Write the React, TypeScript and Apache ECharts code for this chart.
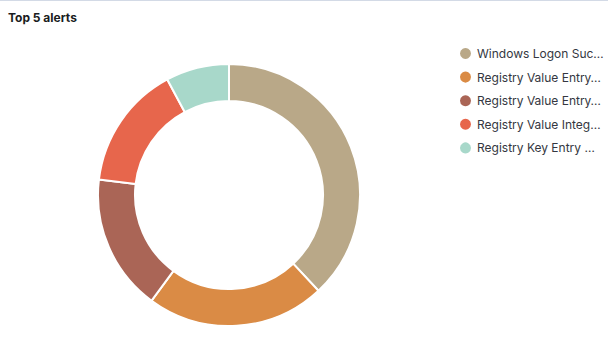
import React, { useEffect, useRef } from "react";
import * as echarts from "echarts";

const categories = [
  "Windows Logon Success",
  "Registry Value Entry Deleted",
  "Registry Value Entry Added",
  "Registry Value Integrity Checksum Changed",
  "Registry Key Entry Added",
];
const values = [380, 220, 168, 153, 78];
const colors = ["#B9A888", "#DA8B45", "#AA6556", "#E7664C", "#A8D8CA"];

export default function App() {
  const ref = useRef<HTMLDivElement>(null);
  useEffect(() => {
    if (!ref.current) return;
    const chart = echarts.init(ref.current, undefined, { renderer: "svg" });
    chart.setOption({
      animation: false,
      color: colors,
      title: {
        text: "Top 5 alerts",
        left: 8,
        top: 10,
        padding: 0,
        textStyle: { fontFamily: "Inter", fontSize: 12, fontWeight: 700, color: "#1a1c21" },
      },
      legend: {
        orient: "vertical",
        left: 458,
        top: 45,
        padding: 0,
        icon: "circle",
        itemWidth: 13,
        itemHeight: 13,
        itemGap: 8.6,
        textStyle: {
          fontFamily: "Inter",
          fontSize: 12,
          color: "#343741",
          width: 128,
          overflow: "truncate",
          ellipsis: "…",
        },
        data: categories,
      },
      series: [
        {
          type: "pie",
          center: [229, 194],
          radius: [94, 131],
          startAngle: 90,
          clockwise: true,
          label: { show: false },
          labelLine: { show: false },
          itemStyle: { borderColor: "#fff", borderWidth: 2 },
          data: categories.map((name, i) => ({ name, value: values[i] })),
        },
      ],
    });
    return () => chart.dispose();
  }, []);
  return (
    <div style={{ position: "absolute", left: 0, top: 0, width: 608, height: 355, background: "#fff", borderTop: "1px solid #D3DAE6", boxSizing: "border-box" }}>
      <div ref={ref} style={{ width: 608, height: 354 }} />
    </div>
  );
}
